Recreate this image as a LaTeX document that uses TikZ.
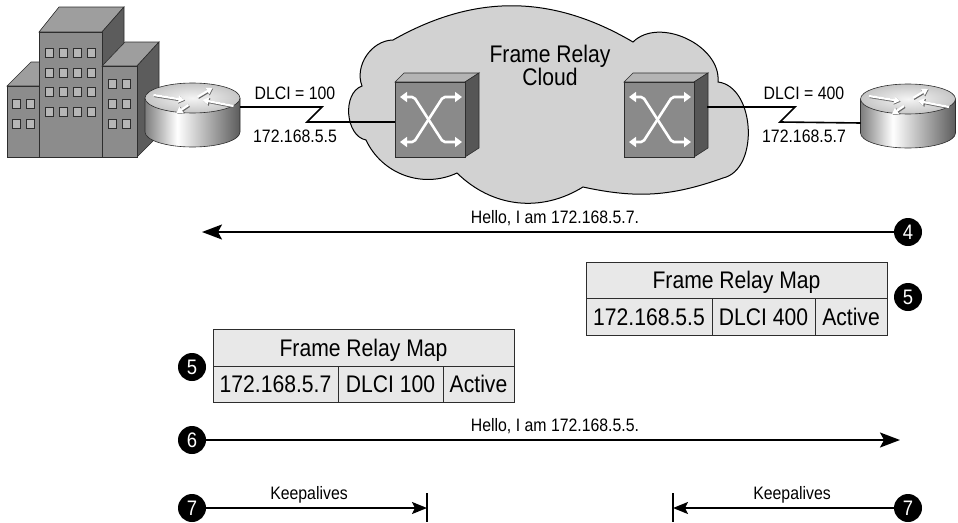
\documentclass[tikz,border=0pt]{standalone}
\usepackage{fontspec}
\setmainfont{Liberation Sans}[FakeStretch=0.88]
\usetikzlibrary{arrows.meta}

\definecolor{cloudfill}{RGB}{210,210,210}
\definecolor{cellfill}{RGB}{232,232,232}
\definecolor{bfront}{RGB}{140,140,140}
\definecolor{btop}{RGB}{158,158,158}
\definecolor{bside}{RGB}{92,92,92}
\definecolor{bwin}{RGB}{182,182,182}
\definecolor{sfront}{RGB}{138,138,138}
\definecolor{stop}{RGB}{180,180,180}
\definecolor{sside}{RGB}{86,86,86}
\definecolor{edge}{RGB}{45,45,45}
\definecolor{cylL}{RGB}{125,125,125}
\definecolor{cylR}{RGB}{92,92,92}
\pgfdeclarehorizontalshading{routerside}{100bp}{color(0bp)=(cylL); color(25bp)=(cylL); color(42bp)=(white); color(75bp)=(cylR); color(100bp)=(cylR)}

\tikzset{
  small/.style={font=\fontsize{18}{20}\selectfont, inner sep=0pt, anchor=base},
  large/.style={font=\fontsize{24}{26}\selectfont, inner sep=0pt, anchor=base},
  stepnum/.style={circle, fill=black, text=white, minimum size=28pt, inner sep=0pt,
    font=\fontsize{21}{22}\selectfont},
  msg/.style={line width=1.8pt, -{Stealth[length=20pt,width=15pt,inset=4pt]}},
  kalive/.style={line width=1.8pt, -{Stealth[length=15pt,width=12pt,inset=3pt]}},
  bar/.style={line width=1.5pt},
  link/.style={line width=1.6pt, line join=miter},
  cell/.style={draw=edge, fill=cellfill, line width=0.9pt, inner sep=0pt, anchor=north west},
  bface/.style={draw=edge, line width=0.6pt},
  bwindow/.style={fill=bwin, draw=edge, line width=0.5pt},
  swarrow/.style={white, line width=2.6pt, rounded corners=2pt,
    {Triangle[length=7pt,width=10pt]}-{Triangle[length=7pt,width=10pt]}},
  rarrow/.style={white, line width=2.2pt, -{Triangle[length=6pt,width=7pt]}},
  rshadow/.style={black!60, line width=2.8pt, -{Triangle[length=6.5pt,width=7.5pt]}},
  switchbox/.pic={
    \filldraw[fill=stop, bface] (0,0) -- (9,-9) -- (84,-9) -- (70,0) -- cycle;
    \filldraw[fill=sside, bface] (70,0) -- (84,-9) -- (84,66) -- (70,75) -- cycle;
    \filldraw[fill=sfront, bface] (0,0) rectangle (70,75);
    \draw[swarrow] (5,15) -- (19,15) -- (48,60) -- (67,60);
    \draw[swarrow] (5,60) -- (19,60) -- (48,15) -- (67,15);
    \coordinate (-w) at (0,40);
    \coordinate (-e) at (83,25);
  },
  router/.pic={
    \shade[shading=routerside] (-47.5,0) -- (-47.5,34)
      arc[start angle=180, end angle=0, x radius=47.5, y radius=15] -- (47.5,0) -- cycle;
    \draw[edge, line width=0.6pt] (-47.5,0) -- (-47.5,34)
      arc[start angle=180, end angle=0, x radius=47.5, y radius=15] -- (47.5,0);
    \shade[inner color=gray!8, outer color=gray!45] (0,0) ellipse [x radius=47.5, y radius=15];
    \draw[edge, line width=0.6pt] (0,0) ellipse [x radius=47.5, y radius=15];
    \foreach \a/\b in {{-39,-3}/{-8,2}, {41,8}/{10,2}, {5,-1}/{20,-10}, {-4,7}/{-16,15}} {
      \draw[rshadow] ([shift={(0.7,0.7)}]\a) -- ([shift={(0.7,0.7)}]\b);
      \draw[rarrow] (\a) -- (\b);
    }
    \coordinate (-w) at (-47.5,24);
    \coordinate (-e) at (47.5,9);
  }
}

\begin{document}
\begin{tikzpicture}[x=1pt, y=-1pt]
\useasboundingbox (0,0) rectangle (958,522);

% provider cloud
\filldraw[fill=cloudfill, draw=black, line width=1pt]
  (393,40) to[bend left=30] (633,42)
  to[bend left=70] (718,82)
  to[bend left=80] (723,178)
  to[bend left=16] (583,187)
  to[bend left=38] (457,173)
  to[bend left=45] (366,140)
  to[bend left=75] (362,86)
  to[bend left=55] (393,40) -- cycle;
\node[large, anchor=base] (cloudA) at (550,62) {Frame Relay};
\node[large, anchor=base] (cloudB) at (550,85) {Cloud};

% office buildings
\filldraw[fill=btop, bface] (7,86) -- (31,62) -- (63,62) -- (39,86) -- cycle;
\filldraw[fill=bfront, bface] (7,86) rectangle (39,157);
\filldraw[fill=btop, bface] (39,32) -- (59,7) -- (124,7) -- (102,32) -- cycle;
\filldraw[fill=bside, bface] (102,32) -- (124,7) -- (124,135) -- (102,157) -- cycle;
\filldraw[fill=bfront, bface] (39,32) rectangle (102,157);
\filldraw[fill=btop, bface] (102,66) -- (125,42) -- (159,42) -- (137,66) -- cycle;
\filldraw[fill=bside, bface] (137,66) -- (159,42) -- (159,135) -- (137,157) -- cycle;
\filldraw[fill=bfront, bface] (102,66) rectangle (137,157);
\foreach \x in {45,59,73,87} \foreach \y in {48,68,87,107}
  \filldraw[bwindow] (\x,\y) rectangle ++(8,9);
\foreach \x in {12,26} \foreach \y in {99,119}
  \filldraw[bwindow] (\x,\y) rectangle ++(8,9);
\foreach \x in {108,122} \foreach \y in {79,99,119}
  \filldraw[bwindow] (\x,\y) rectangle ++(8,9);

% switches and routers
\pic (swL) at (395,82) {switchbox};
\pic (swR) at (624,82) {switchbox};
\pic (rtL) at (192.5,98) {router};
\pic (rtR) at (908,99) {router};

% serial links
\coordinate (zL1) at (322,107);
\coordinate (zL2) at (307,122);
\coordinate (zR1) at (795,107);
\coordinate (zR2) at (780,122);
\draw[link] (rtL-e) -- (zL1) -- (zL2) -- (swL-w);
\draw[link] (swR-e) -- (zR1) -- (zR2) -- (rtR-w);
\node[small] (dlciL) at (295,99) {DLCI = 100};
\node[small] (ipL) at (295,142) {172.168.5.5};
\node[small] (dlciR) at (804,99) {DLCI = 400};
\node[small] (ipR) at (804,142) {172.168.5.7};

% step 4
\node[stepnum] (s4) at (908,232) {4};
\coordinate (h4) at (202,232);
\draw[msg] (s4) -- (h4);
\node[small] (t4) at (555,223) {Hello, I am 172.168.5.7.};

% step 5: map on the right router
\node[cell, minimum width=301pt, minimum height=36pt] (mR) at (586,262) {};
\node[cell, minimum width=126pt, minimum height=37pt] (mR1) at (586,298) {};
\node[cell, minimum width=103pt, minimum height=37pt] (mR2) at (712,298) {};
\node[cell, minimum width=72pt, minimum height=37pt] (mR3) at (815,298) {};
\node[large] (mRt) at (736.5,288.5) {Frame Relay Map};
\node[large] (mR1t) at (649,325.5) {172.168.5.5};
\node[large] (mR2t) at (763.5,325.5) {DLCI 400};
\node[large] (mR3t) at (851,325.5) {Active};
\node[stepnum] (s5R) at (908,297) {5};

% step 5: map on the left router
\node[cell, minimum width=301pt, minimum height=37pt] (mL) at (213,329) {};
\node[cell, minimum width=125pt, minimum height=36pt] (mL1) at (213,366) {};
\node[cell, minimum width=105pt, minimum height=36pt] (mL2) at (338,366) {};
\node[cell, minimum width=71pt, minimum height=36pt] (mL3) at (443,366) {};
\node[large] (mLt) at (363.5,356) {Frame Relay Map};
\node[large] (mL1t) at (275.5,392.5) {172.168.5.7};
\node[large] (mL2t) at (390.5,392.5) {DLCI 100};
\node[large] (mL3t) at (478.5,392.5) {Active};
\node[stepnum] (s5L) at (192,367) {5};

% step 6
\node[stepnum] (s6) at (192,440) {6};
\coordinate (h6) at (900,440);
\draw[msg] (s6) -- (h6);
\node[small] (t6) at (555,431) {Hello, I am 172.168.5.5.};

% step 7: keepalives both ways
\node[stepnum] (s7L) at (192,508) {7};
\coordinate (kL) at (427,508);
\coordinate (kLa) at (427,493);
\coordinate (kLb) at (427,522);
\draw[kalive] (s7L) -- (kL);
\draw[bar] (kLa) -- (kLb);
\node[small] (kLt) at (309,499) {Keepalives};

\node[stepnum] (s7R) at (908,508) {7};
\coordinate (kR) at (673,508);
\coordinate (kRa) at (673,493);
\coordinate (kRb) at (673,522);
\draw[kalive] (s7R) -- (kR);
\draw[bar] (kRa) -- (kRb);
\node[small] (kRt) at (792,499) {Keepalives};
\end{tikzpicture}
\end{document}
